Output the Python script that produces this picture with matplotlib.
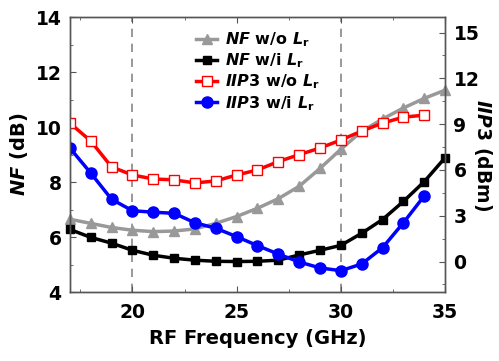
import numpy as np
import matplotlib.pyplot as plt
from matplotlib.ticker import MultipleLocator

plt.rcParams['font.family'] = 'DejaVu Sans'
plt.rcParams['font.weight'] = 'bold'
plt.rcParams['mathtext.fontset'] = 'custom'
plt.rcParams['mathtext.it'] = 'DejaVu Sans:italic:bold'
plt.rcParams['mathtext.rm'] = 'DejaVu Sans:bold'
plt.rcParams['mathtext.bf'] = 'DejaVu Sans:bold'

# data
freq = np.arange(17, 36)
nf_wo = [6.65, 6.5, 6.35, 6.25, 6.2, 6.22, 6.3, 6.5, 6.75, 7.05, 7.4, 7.85,
         8.5, 9.2, 9.85, 10.3, 10.7, 11.05, 11.35]
nf_wi = [6.28, 5.99, 5.78, 5.52, 5.34, 5.23, 5.16, 5.12, 5.11, 5.12, 5.16, 5.35,
         5.52, 5.7, 6.14, 6.64, 7.3, 8.02, 8.89]
freq_iip3 = np.arange(17, 35)
iip3_wo = [9.07, 7.9, 6.2, 5.67, 5.41, 5.35, 5.15, 5.28, 5.67, 6.0, 6.55, 7.0,
           7.44, 7.96, 8.55, 9.07, 9.46, 9.59]
iip3_wi = [7.44, 5.8, 4.08, 3.33, 3.23, 3.16, 2.54, 2.18, 1.63, 1.04, 0.49, -0.03,
           -0.42, -0.6, -0.16, 0.91, 2.54, 4.3]

labels = [r'$NF$ w/o $L_\mathrm{r}$', r'$NF$ w/i $L_\mathrm{r}$',
          r'$IIP3$ w/o $L_\mathrm{r}$', r'$IIP3$ w/i $L_\mathrm{r}$']

fig = plt.figure(figsize=(4.99, 3.61), dpi=100)
ax = fig.add_axes([0.140, 0.191, 0.752, 0.761])
ax2 = ax.twinx()

spine_c = '#555555'
for a in (ax, ax2):
    for s in a.spines.values():
        s.set_color(spine_c)
        s.set_linewidth(1.0)

ax.axvline(20, color='#888888', ls=(0, (5, 4)), lw=1.2, zorder=0)
ax.axvline(30, color='#888888', ls=(0, (5, 4)), lw=1.2, zorder=0)

l1, = ax.plot(freq, nf_wo, color='#999999', marker='^', ms=7, lw=2.5, label=labels[0], clip_on=False)
l2, = ax.plot(freq, nf_wi, color='black', marker='s', ms=6, lw=2.5, label=labels[1], clip_on=False)
l3, = ax2.plot(freq_iip3, iip3_wo, color='#ff0000', marker='s', ms=7, lw=2.5,
               mfc='white', mec='#ff0000', mew=1.0, label=labels[2])
l4, = ax2.plot(freq_iip3, iip3_wi, color='#0000ff', marker='o', ms=8, lw=2.5, label=labels[3])

ax.set_xlim(17, 35)
ax.set_ylim(4, 14)
ax2.set_ylim(-2, 16)
ax.xaxis.set_major_locator(MultipleLocator(5))
ax.xaxis.set_minor_locator(MultipleLocator(2.5))
ax.yaxis.set_major_locator(MultipleLocator(2))
ax.yaxis.set_minor_locator(MultipleLocator(1))
ax2.yaxis.set_major_locator(MultipleLocator(3))
ax2.yaxis.set_minor_locator(MultipleLocator(1.5))

ax.tick_params(which='both', direction='in', top=True, color=spine_c, labelsize=13.5)
ax.tick_params(which='major', length=4, pad=6)
ax.tick_params(axis='x', which='major', pad=8)
ax.tick_params(which='minor', length=2.5)
ax2.tick_params(which='both', direction='in', color=spine_c, labelsize=13.5)
ax2.tick_params(which='major', length=4, pad=6)
ax2.tick_params(which='minor', length=2.5)
ax.set_yticks([4, 6, 8, 10, 12, 14])
ax2.set_yticks([0, 3, 6, 9, 12, 15])

ax.set_xlabel('RF Frequency (GHz)', fontsize=14, fontweight='bold', labelpad=5)
ax.set_ylabel(r'$NF$ (dB)', fontsize=14, fontweight='bold', labelpad=4)
ax2.set_ylabel(r'$IIP3$ (dBm)', fontsize=13.5, fontweight='bold', rotation=270,
               va='center', ha='center')
ax2.yaxis.set_label_coords(1.1, 0.5)

ax.legend(handles=[l1, l2, l3, l4], loc='upper left', bbox_to_anchor=(0.32, 0.975),
          frameon=False, fontsize=11.5, handlelength=1.3, handletextpad=0.5,
          labelspacing=0.15, borderaxespad=0)

fig.savefig('out.png', dpi=100)
